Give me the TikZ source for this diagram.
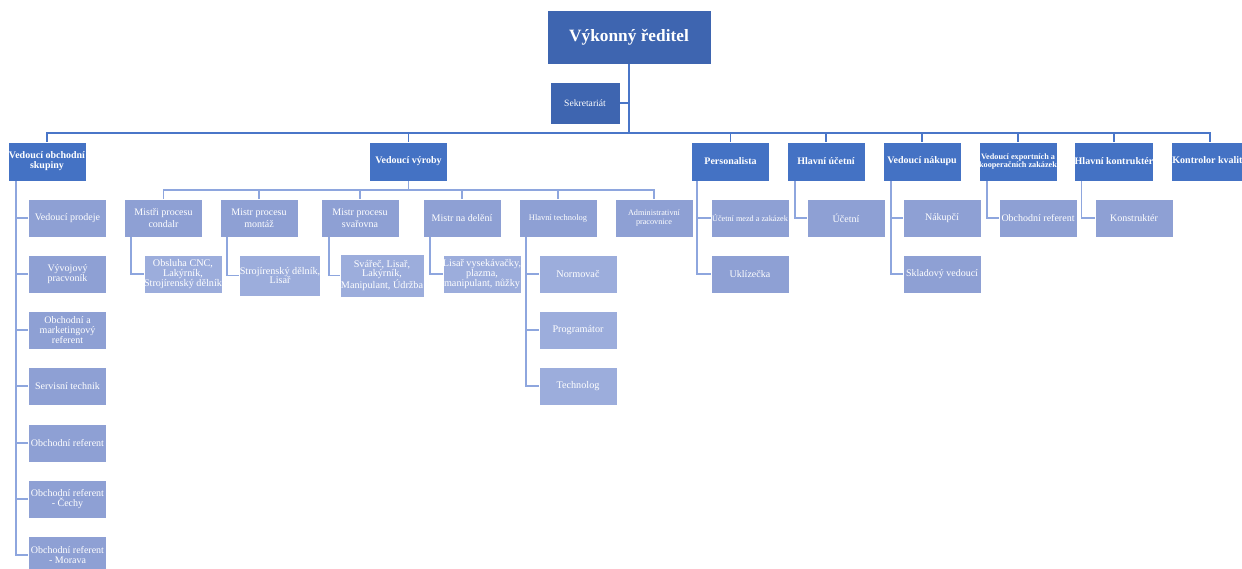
\documentclass[tikz,border=0pt]{standalone}
\usepackage{fontspec}
\setmainfont{Liberation Serif}
\definecolor{ctop}{HTML}{3E65B0}
\definecolor{clev2}{HTML}{4472C4}
\definecolor{clev3}{HTML}{8EA0D4}
\definecolor{clev4}{HTML}{9CADDC}
\definecolor{lmain}{HTML}{4A76C8}
\definecolor{lsub}{HTML}{8EA6DE}
\tikzset{
  box/.style={draw=white, line width=0.6pt, text=white, align=center, inner sep=0pt, minimum width=78pt, minimum height=38pt},
  topbox/.style={box, fill=ctop, minimum width=164pt, minimum height=54pt, font=\fontsize{17.3}{18}\selectfont\bfseries},
  lvtwo/.style={box, fill=clev2, minimum height=39pt, font=\fontsize{10}{10}\selectfont\bfseries},
  lvthree/.style={box, fill=clev3, font=\fontsize{10}{9.7}\selectfont},
  lvfour/.style={box, fill=clev4, font=\fontsize{10.2}{9.7}\selectfont},
  mainln/.style={draw=lmain, line width=1.9pt},
  subln/.style={draw=lsub, line width=1.8pt},
}
\begin{document}
\begin{tikzpicture}[x=1pt,y=-1pt]
\useasboundingbox (0,0) rectangle (1242,569);
% level 1
\node[topbox] (top) at (629,37) {Výkonný ředitel};
\node[box, fill=ctop, minimum width=70pt, minimum height=42pt, font=\fontsize{9.6}{10}\selectfont] (sek) at (585,103) {Sekretariát};
% level 2
\node[lvtwo] (vos) at (47,161.5) {Vedoucí obchodní\\skupiny};
\node[lvtwo] (vv) at (408.5,161.5) {Vedoucí výroby};
\node[lvtwo] (pers) at (730.5,161.5) {Personalista};
\node[lvtwo] (hu) at (826,161.5) {Hlavní účetní};
\node[lvtwo] (vn) at (922,161.5) {Vedoucí nákupu};
\node[lvtwo, font=\fontsize{8.2}{8.4}\selectfont\bfseries] (ve) at (1018,161.5) {Vedoucí exportních a\\kooperačních zakázek};
\node[lvtwo] (hk) at (1114,161.5) {Hlavní kontruktér};
\node[lvtwo] (kk) at (1210,161.5) {Kontrolor kvality};
% connectors level 1-2
\coordinate (bar) at (629,133);
\draw[mainln] (top.south) -- (bar);
\draw[mainln] (sek.east) -- (sek.east -| top.south);
\draw[mainln] (vos.north) |- (bar) -| (kk.north);
\foreach \n in {vv,pers,hu,vn,ve,hk} {\draw[mainln] (\n.north) -- (\n.north |- bar);}
% level 3 under Vedoucí výroby
\node[lvthree, font=\fontsize{10}{12.5}\selectfont] (m1) at (163.5,218) {Mistři procesu\\condalr};
\node[lvthree, font=\fontsize{10}{12.5}\selectfont] (m2) at (259,218) {Mistr procesu\\montáž};
\node[lvthree, font=\fontsize{10}{12.5}\selectfont] (m3) at (360,218) {Mistr procesu\\svařovna};
\node[lvthree] (m4) at (462,218) {Mistr na delění};
\node[lvthree, font=\fontsize{8.4}{9}\selectfont] (ht) at (558,218) {Hlavní technolog};
\node[lvthree, font=\fontsize{8.2}{9}\selectfont] (ap) at (654,218) {Administrativní\\pracovnice};
\coordinate (vbar) at (408.5,190);
\draw[subln] (vv.south) -- (vbar);
\draw[subln] (m1.north) |- (vbar) -| (ap.north);
\foreach \n in {m2,m3,m4,ht} {\draw[subln] (\n.north) -- (\n.north |- vbar);}
% level 4 under Mistr boxes
\node[lvfour] (o1) at (183,274) {Obsluha CNC,\\Lakýrník,\\Strojírenský dělník};
\node[lvfour, minimum width=80pt, minimum height=41pt] (o2) at (280,275.5) {Strojírenský dělník,\\Lisař};
\node[lvfour, minimum width=84pt, minimum height=43pt] (o3) at (382,275.5) {Svářeč, Lisař,\\Lakýrník,\\Manipulant, Údržba};
\node[lvfour] (o4) at (482,274) {Lisař vysekávačky,\\plazma,\\manipulant, nůžky};
\draw[subln] (m1.south west) ++(7,0) |- (o1.west);
\draw[subln] (m2.south west) ++(7,0) |- (o2.west);
\draw[subln] (m3.south west) ++(8,0) |- (o3.west);
\draw[subln] (m4.south west) ++(7,0) |- (o4.west);
% Hlavní technolog children
\node[lvfour] (t1) at (578,274) {Normovač};
\node[lvfour] (t2) at (578,330) {Programátor};
\node[lvfour] (t3) at (578,386) {Technolog};
\draw[subln] (ht.south west) ++(7,0) |- (t3.west);
\foreach \n in {t1,t2} {\draw[subln] (\n.west) -- ++(-13,0);}
% left column
\node[lvthree] (a1) at (67.5,218) {Vedoucí prodeje};
\node[lvthree] (a2) at (67.5,274) {Vývojový\\pracvoník};
\node[lvthree, font=\fontsize{10}{10}\selectfont] (a3) at (67.5,330) {Obchodní a\\marketingový\\referent};
\node[lvthree] (a4) at (67.5,386) {Servisní technik};
\node[lvthree] (a5) at (67.5,443) {Obchodní referent};
\node[lvthree] (a6) at (67.5,499) {Obchodní referent\\- Čechy};
\node[lvthree] (a7) at (67.5,555) {Obchodní referent\\- Morava};
\draw[subln] (vos.south west) ++(8,0) |- (a7.west);
\foreach \n in {a1,a2,a3,a4,a5,a6} {\draw[subln] (\n.west) -- ++(-13.5,0);}
% right side children
\node[lvthree, font=\fontsize{8.2}{9}\selectfont] (p1) at (750,218) {Účetní mezd a zakázek};
\node[lvthree] (p2) at (750,274) {Uklízečka};
\draw[subln] (pers.south west) ++(6,0) |- (p2.west);
\draw[subln] (p1.west) -- ++(-13,0);
\node[lvthree] (u1) at (846,218) {Účetní};
\draw[subln] (hu.south west) ++(8,0) |- (u1.west);
\node[lvthree] (n1) at (942,218) {Nákupčí};
\node[lvthree] (n2) at (942,274) {Skladový vedoucí};
\draw[subln] (vn.south west) ++(8,0) |- (n2.west);
\draw[subln] (n1.west) -- ++(-12,0);
\node[lvthree] (e1) at (1038,218) {Obchodní referent};
\draw[subln] (ve.south west) ++(8,0) |- (e1.west);
\node[lvthree] (k1) at (1134,218) {Konstruktér};
\draw[subln] (hk.south west) ++(7,0) |- (k1.west);
\end{tikzpicture}
\end{document}
